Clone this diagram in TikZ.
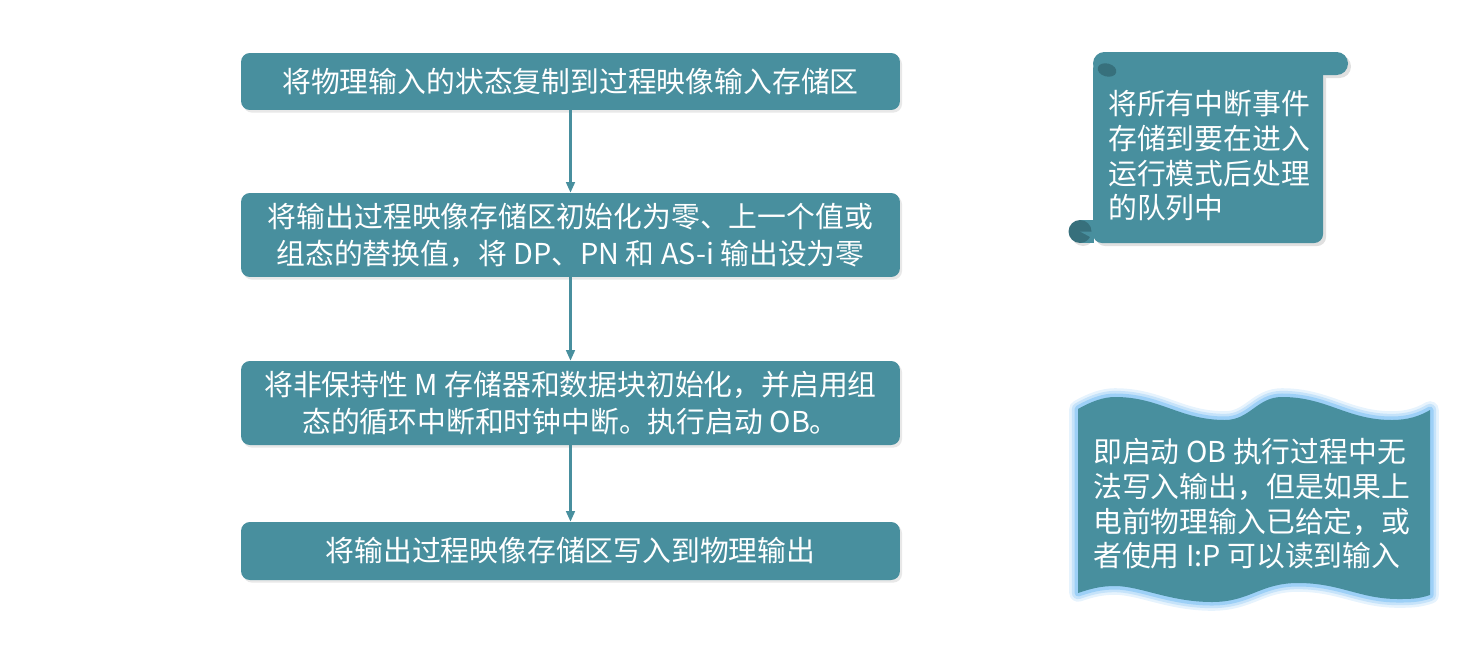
\documentclass[tikz,border=0pt]{standalone}
\usepackage{fontspec}
\setmainfont{Noto Sans CJK SC}
\usetikzlibrary{arrows.meta,shadows}

\definecolor{azul}{RGB}{72,143,158}
\definecolor{azulesc}{RGB}{55,112,124}
\definecolor{brilho}{RGB}{140,200,245}

\begin{document}
\begin{tikzpicture}[
  x=0.02cm, y=-0.02cm,
  passo/.style={fill=azul, rounded corners=5pt, text=white, align=center,
    minimum width=13.18cm, inner sep=2pt,
    font=\fontsize{16.4}{21}\selectfont,
    drop shadow={opacity=0.18, shadow xshift=1.2pt, shadow yshift=-1.5pt}},
  seta/.style={-{Triangle[length=6pt,width=5pt]}, draw=azul, line width=1.2pt},
  nota/.style={text=white, align=left, anchor=north west, inner sep=0pt,
    font=\fontsize{16.4}{19.8}\selectfont}
]

\useasboundingbox (0,0) rectangle (1476,646);

% ==========================================================
% Passos do arranque
% ==========================================================
\node[passo, minimum height=1.14cm] (p1) at (570.5,81.5)
  {将物理输入的状态复制到过程映像输入存储区};
\node[passo, minimum height=1.68cm] (p2) at (570.5,235)
  {将输出过程映像存储区初始化为零、上一个值或\\组态的替换值，将 DP、PN 和 AS-i 输出设为零};
\node[passo, minimum height=1.68cm] (p3) at (570.5,403)
  {将非保持性 M 存储器和数据块初始化，并启用组\\态的循环中断和时钟中断。执行启动 OB。};
\node[passo, minimum height=1.16cm] (p4) at (570.5,551)
  {将输出过程映像存储区写入到物理输出};

\draw[seta] (p1.south) -- (p2.north);
\draw[seta] (p2.south) -- (p3.north);
\draw[seta] (p3.south) -- (p4.north);

% ==========================================================
% Pergaminho
% ==========================================================
\begin{scope}[shift={(3,3)}]
  \fill[black!12, rounded corners=6.5pt] (1093,52) rectangle (1348,75);
  \fill[black!12, rounded corners=5pt] (1093,60) rectangle (1323,243);
  \fill[black!12] (1080,231.5) circle[radius=11.5];
\end{scope}
\fill[azul, rounded corners=6.5pt] (1093,52) rectangle (1348,75);
\fill[azul, rounded corners=5pt] (1093,60) rectangle (1323,243);
\fill[azul] (1080,220) rectangle (1094,243);
\fill[azulesc] (1080,231.5) circle[radius=11.5];
\fill[azul] (1080,231.5) -- (1092,231.5) -- (1092,238) -- cycle;
\fill[azulesc, rotate around={-15:(1107,70)}] (1107,70) ellipse[x radius=9.5, y radius=6.5];

\node[nota] (t1) at (1108,90)
  {将所有中断事件\\存储到要在进入\\运行模式后处理\\的队列中};

% ==========================================================
% Onda
% ==========================================================
\def\onda{(1078,409) .. controls (1092,401) and (1104,397) .. (1115,397)
  .. controls (1160,397) and (1180,420) .. (1225,420)
  .. controls (1250,420) and (1257,397) .. (1282,397)
  .. controls (1327,397) and (1347,420) .. (1392,420)
  .. controls (1408,420) and (1420,416) .. (1430,410)
  -- (1430,595)
  .. controls (1418,599) and (1410,599) .. (1398,599)
  .. controls (1360,599) and (1340,583) .. (1298,583)
  .. controls (1260,583) and (1250,602) .. (1212,602)
  .. controls (1170,602) and (1140,586) .. (1115,586)
  .. controls (1100,586) and (1090,589) .. (1078,593) -- cycle}

\draw[brilho!22, line width=10pt, line join=round] \onda;
\draw[brilho!50, line width=7pt, line join=round] \onda;
\draw[brilho!85, line width=4pt, line join=round] \onda;
\fill[azul] \onda;

\node[nota] (t2) at (1093,438)
  {即启动 OB 执行过程中无\\法写入输出，但是如果上\\电前物理输入已给定，或\\者使用 I:P 可以读到输入};

\end{tikzpicture}
\end{document}
